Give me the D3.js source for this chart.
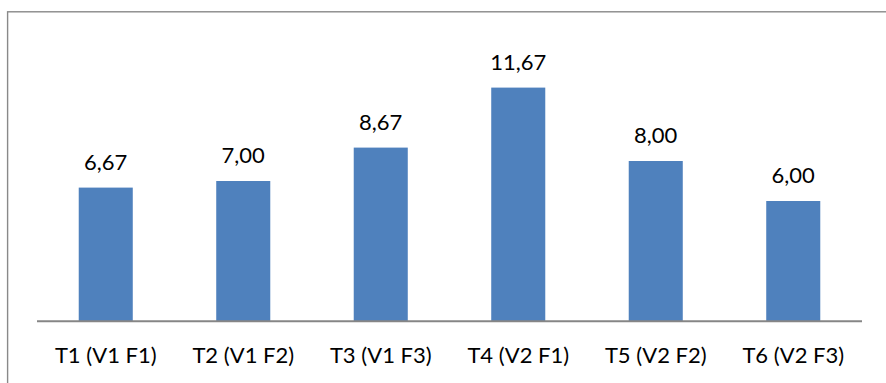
<!DOCTYPE html>
<html>
<head>
<meta charset="utf-8">
<script src="https://cdn.jsdelivr.net/npm/d3@7"></script>
<style>
  html, body { margin: 0; padding: 0; background: #fff; }
  svg { display: block; }
</style>
</head>
<body>
<svg id="chart" width="886" height="383"></svg>
<script>
// Treatment labels and their mean values
const categories = ["T1 (V1 F1)", "T2 (V1 F2)", "T3 (V1 F3)", "T4 (V2 F1)", "T5 (V2 F2)", "T6 (V2 F3)"];
const values = [6.67, 7.00, 8.67, 11.67, 8.00, 6.00];
const valueLabels = ["6,67", "7,00", "8,67", "11,67", "8,00", "6,00"];

const W = 886, H = 383;
const plot = { left: 37, right: 862, top: 41, bottom: 321 };
const font = "Lato, 'Open Sans', sans-serif";

const svg = d3.select("#chart");

// Chart frame
svg.append("rect")
  .attr("x", 7.6).attr("y", 11.8)
  .attr("width", W + 20).attr("height", H + 20)
  .attr("fill", "#fff")
  .attr("stroke", "#898989")
  .attr("stroke-width", 1.4);

const x = d3.scaleBand()
  .domain(categories)
  .range([plot.left, plot.right])
  .paddingInner(0.607)
  .paddingOuter(0.3035);

const y = d3.scaleLinear()
  .domain([0, 14])
  .range([plot.bottom, plot.top]);

const data = categories.map((c, i) => ({ cat: c, v: values[i], label: valueLabels[i] }));

// Bars
svg.append("g")
  .selectAll("rect")
  .data(data)
  .join("rect")
  .attr("x", d => x(d.cat))
  .attr("y", d => y(d.v))
  .attr("width", x.bandwidth())
  .attr("height", d => y(0) - y(d.v))
  .attr("fill", "#4F81BD");

// Value labels above bars
svg.append("g")
  .selectAll("text")
  .data(data)
  .join("text")
  .attr("x", d => x(d.cat) + x.bandwidth() / 2)
  .attr("y", d => y(d.v) - 18)
  .attr("text-anchor", "middle")
  .attr("font-family", font)
  .attr("font-size", 22)
  .attr("fill", "#000")
  .text(d => d.label);

// Category axis
const xAxis = svg.append("g")
  .attr("transform", `translate(0,${plot.bottom})`)
  .call(d3.axisBottom(x).tickSize(0).tickPadding(0));
xAxis.select(".domain")
  .attr("d", `M${plot.left},0.3H${plot.right}`)
  .attr("stroke", "#868686")
  .attr("stroke-width", 2);
xAxis.selectAll(".tick text")
  .attr("y", 42)
  .attr("dy", 0)
  .attr("font-family", font)
  .attr("font-size", 22)
  .attr("fill", "#000");
</script>
</body>
</html>
